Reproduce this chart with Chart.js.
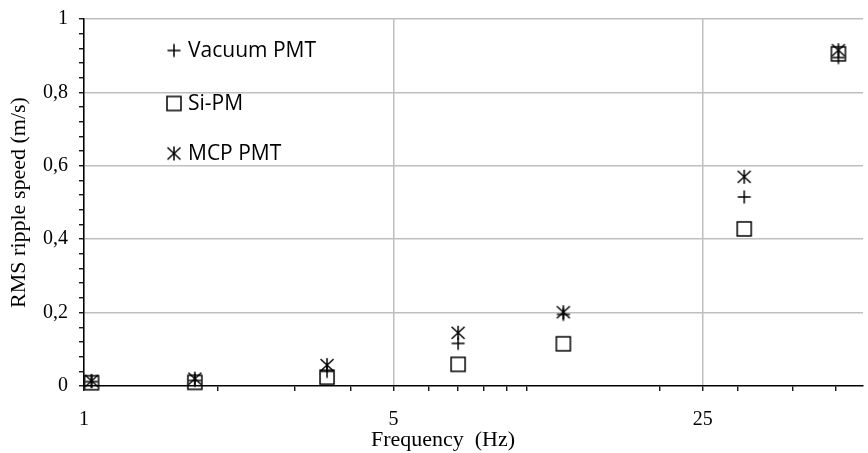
<!DOCTYPE html>
<html>
<head>
<meta charset="utf-8">
<script src="https://cdn.jsdelivr.net/npm/chart.js@4.4.1/dist/chart.umd.min.js"></script>
<style>
  html, body { margin: 0; padding: 0; background: #fff; overflow: hidden; }
  #wrap { width: 868px; height: 453px; position: relative; }
</style>
</head>
<body>
<div id="wrap"><canvas id="ripple-chart" width="868" height="453"></canvas></div>
<script>
// frequencies (Hz) and RMS ripple speed (m/s)
const freqs = [1.04, 1.78, 3.54, 7.0, 12.1, 31, 50.6];
const vacuumPmt = [0.012, 0.015, 0.04, 0.116, 0.195, 0.515, 0.895];
const siPm = [0.009, 0.01, 0.024, 0.059, 0.115, 0.428, 0.905];
const mcpPmt = [0.014, 0.02, 0.057, 0.145, 0.201, 0.57, 0.915];

const seriesNames = ['Vacuum PMT', 'Si-PM', 'MCP PMT'];
const xTitle = 'Frequency  (Hz)';
const yTitle = 'RMS ripple speed (m/s)';

// axis ticks
const xMajor = [1, 5, 25];
const xMinor = [2, 3, 4, 6, 7, 8, 9, 10, 20, 30, 40, 50];
const yMajorStep = 0.2;
const yMinorStep = 0.04;

const serif = "'Liberation Serif', 'Times New Roman', serif";
const gridGray = '#bfbfbf';

function makeMarker(kind) {
    const c = document.createElement('canvas');
    c.width = 18; c.height = 18;
    const g = c.getContext('2d');
    g.strokeStyle = '#000';
    g.lineWidth = 1.5;
    g.beginPath();
    if (kind === 'plus') {
        g.moveTo(2.5, 9); g.lineTo(15.5, 9);
        g.moveTo(9, 2.5); g.lineTo(9, 15.5);
    } else if (kind === 'square') {
        g.rect(2, 2, 14, 14);
    } else {
        g.moveTo(2.5, 3); g.lineTo(15.5, 15);
        g.moveTo(15.5, 3); g.lineTo(2.5, 15);
        g.moveTo(9, 2); g.lineTo(9, 16);
    }
    g.stroke();
    return c;
}

const markers = [makeMarker('plus'), makeMarker('square'), makeMarker('star')];

function toPoints(ys) {
    return freqs.map((f, i) => ({ x: f, y: ys[i] }));
}

const isMajorY = v => Math.abs(v / yMajorStep - Math.round(v / yMajorStep)) < 1e-6;

// legend inside the plot + x title sitting a bit left of centre, like the original
const innerLegend = {
    id: 'innerLegend',
    afterDatasetsDraw(chart) {
        const ctx = chart.ctx;
        const rows = [50.5, 103.5, 153.5];
        ctx.save();
        ctx.font = "21px 'Open Sans', 'Noto Sans', sans-serif";
        ctx.fillStyle = '#000';
        ctx.textBaseline = 'middle';
        ctx.textAlign = 'left';
        seriesNames.forEach((name, i) => {
            const m = markers[i];
            ctx.drawImage(m, 174 - m.width / 2, rows[i] - m.height / 2);
            ctx.fillText(name, 188, rows[i] + 1);
        });
        ctx.font = '22px ' + serif;
        ctx.textAlign = 'center';
        ctx.fillText(xTitle, 443, 440);
        ctx.restore();
    }
};

const datasets = [vacuumPmt, siPm, mcpPmt].map((vals, i) => ({
    label: seriesNames[i],
    data: toPoints(vals),
    pointStyle: markers[i],
    showLine: false,
    clip: false
}));

new Chart(document.getElementById('ripple-chart'), {
    type: 'scatter',
    data: { datasets: datasets },
    options: {
        responsive: false,
        animation: false,
        events: [],
        layout: { padding: { top: 19, right: 0, bottom: 0, left: 0 } },
        plugins: {
            legend: { display: false },
            tooltip: { enabled: false }
        },
        scales: {
            x: {
                type: 'logarithmic',
                min: 1,
                max: 57.5,
                afterBuildTicks(scale) {
                    scale.ticks = xMajor.concat(xMinor).sort((a, b) => a - b).map(v => ({ value: v }));
                },
                afterFit(scale) { scale.height = 67; },
                ticks: {
                    autoSkip: false,
                    maxRotation: 0,
                    padding: 17,
                    color: '#000',
                    font: { family: serif, size: 20 },
                    callback: v => xMajor.includes(v) ? String(v) : ''
                },
                grid: {
                    color: ctx => (ctx.tick && xMajor.includes(ctx.tick.value)) ? gridGray : 'rgba(0,0,0,0)',
                    lineWidth: 1.5,
                    tickColor: '#000',
                    tickLength: 5,
                    tickWidth: 1.3
                },
                border: { color: '#000', width: 1.5 }
            },
            y: {
                min: 0,
                max: 1,
                afterFit(scale) {
                    scale.width = 84;
                    scale.paddingTop = 0;
                },
                ticks: {
                    stepSize: yMinorStep,
                    autoSkip: false,
                    padding: 11,
                    color: '#000',
                    font: { family: serif, size: 20 },
                    callback: v => isMajorY(v) ? String(Math.round(v * 10) / 10).replace('.', ',') : ''
                },
                grid: {
                    color: ctx => (ctx.tick && isMajorY(ctx.tick.value) && ctx.tick.value > 0) ? gridGray : 'rgba(0,0,0,0)',
                    lineWidth: 1.5,
                    tickColor: '#000',
                    tickLength: 5,
                    tickWidth: 1.3
                },
                border: { color: '#000', width: 1.5 },
                title: {
                    display: true,
                    text: yTitle,
                    color: '#000',
                    font: { family: serif, size: 22 },
                    padding: { top: 6, bottom: 0 }
                }
            }
        }
    },
    plugins: [innerLegend]
});
</script>
</body>
</html>
